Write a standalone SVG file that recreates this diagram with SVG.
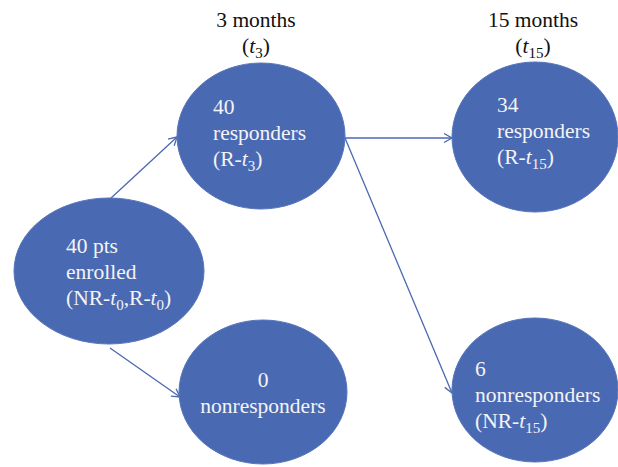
<svg xmlns="http://www.w3.org/2000/svg" width="618" height="467" viewBox="0 0 618 467">
<style>
.node{fill:#4a69b3;stroke:#5574bb;stroke-width:1}
.lbl{font-family:"Liberation Serif","Times New Roman",serif;font-size:21.5px;fill:#f4f4f4}
.hdr{font-family:"Liberation Serif","Times New Roman",serif;font-size:21.5px;fill:#111;text-anchor:middle}
.it{font-style:italic}
.sub{font-size:15px}
.conn{stroke:#4a69b3;stroke-width:1.3;fill:none}
</style>
<defs>
<marker id="arr" markerUnits="userSpaceOnUse" markerWidth="12" markerHeight="12" refX="9" refY="5" orient="auto">
<path d="M1,0.5 L9,5 L1,9.5" fill="none" stroke="#4a69b3" stroke-width="1.3"/>
</marker>
</defs>
<rect width="618" height="467" fill="#ffffff"/>
<g id="headers">
<text class="hdr" x="256" y="27">3 months</text>
<text class="hdr" x="256" y="53">(<tspan class="it">t</tspan><tspan class="sub" dy="5">3</tspan><tspan dy="-5">)</tspan></text>
<text class="hdr" x="533" y="27">15 months</text>
<text class="hdr" x="533" y="53">(<tspan class="it">t</tspan><tspan class="sub" dy="5">15</tspan><tspan dy="-5">)</tspan></text>
</g>
<g id="connectors">
<line class="conn" x1="110" y1="199" x2="177" y2="137" marker-end="url(#arr)"/>
<line class="conn" x1="110" y1="348" x2="180" y2="397" marker-end="url(#arr)"/>
<line class="conn" x1="345" y1="138" x2="452" y2="138" marker-end="url(#arr)"/>
<line class="conn" x1="345" y1="138" x2="452" y2="393" marker-end="url(#arr)"/>
</g>
<g id="n-enrolled">
<ellipse class="node" cx="109" cy="271" rx="95" ry="73"/>
<text class="lbl" x="66" y="253">40 pts</text>
<text class="lbl" x="66" y="279">enrolled</text>
<text class="lbl" x="66" y="305">(NR-<tspan class="it">t</tspan><tspan class="sub" dy="5">0</tspan><tspan dy="-5">,R-</tspan><tspan class="it">t</tspan><tspan class="sub" dy="5">0</tspan><tspan dy="-5">)</tspan></text>
</g>
<g id="n-r-t3">
<ellipse class="node" cx="261" cy="136" rx="84" ry="73"/>
<text class="lbl" x="213" y="114">40</text>
<text class="lbl" x="213" y="140">responders</text>
<text class="lbl" x="213" y="166">(R-<tspan class="it">t</tspan><tspan class="sub" dy="5">3</tspan><tspan dy="-5">)</tspan></text>
</g>
<g id="n-nr-t3">
<ellipse class="node" cx="263" cy="392" rx="84" ry="72"/>
<text class="lbl" x="263" y="387" text-anchor="middle">0</text>
<text class="lbl" x="263" y="413" text-anchor="middle">nonresponders</text>
</g>
<g id="n-r-t15">
<ellipse class="node" cx="535" cy="137" rx="83" ry="75"/>
<text class="lbl" x="497" y="112">34</text>
<text class="lbl" x="497" y="138">responders</text>
<text class="lbl" x="497" y="164">(R-<tspan class="it">t</tspan><tspan class="sub" dy="5">15</tspan><tspan dy="-5">)</tspan></text>
</g>
<g id="n-nr-t15">
<ellipse class="node" cx="535" cy="390" rx="83" ry="72"/>
<text class="lbl" x="475" y="376">6</text>
<text class="lbl" x="475" y="402">nonresponders</text>
<text class="lbl" x="475" y="428">(NR-<tspan class="it">t</tspan><tspan class="sub" dy="5">15</tspan><tspan dy="-5">)</tspan></text>
</g>
</svg>
